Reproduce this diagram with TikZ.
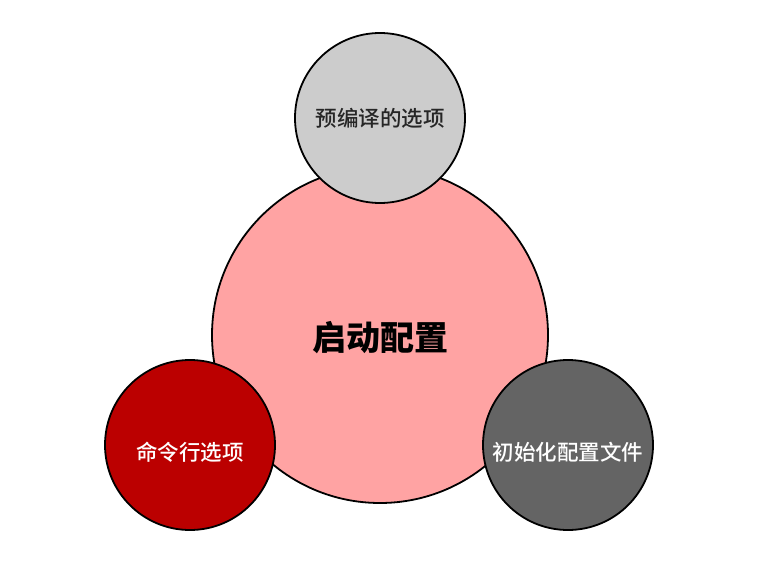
\documentclass[tikz,border=0pt]{standalone}
\usepackage{fontspec}
\newfontfamily\cjk{Noto Sans CJK SC}
\newfontfamily\cjkmid{Noto Sans CJK SC Medium}
\usepackage{xcolor}
\definecolor{pinkfill}{HTML}{FFA3A3}
\definecolor{lightgrey}{HTML}{CCCCCC}
\definecolor{darkred}{HTML}{BB0000}
\definecolor{darkgrey}{HTML}{646464}

\begin{document}
\begin{tikzpicture}[x=1pt,y=-1pt]
    \tikzstyle{c} = [circle,draw=black,line width=1.8pt,inner sep=0pt]
    \tikzstyle{big} = [c,minimum size=336pt,fill=pinkfill,font=\cjk\bfseries\fontsize{34}{34}\selectfont]
    \tikzstyle{small} = [c,minimum size=170pt,font=\cjkmid\fontsize{21.5}{21.5}\selectfont]
    \useasboundingbox (0,0) rectangle (768,575);
    \node [big] (start) at (380,335) {\raisebox{-3pt}[\height][\depth]{启动配置}};
    \node [small,fill=lightgrey,text=black!85] (precompiled) at (380,118) {预编译的选项};
    \node [small,fill=darkred,text=white] (cmdline) at (190,445) {\raisebox{-7pt}[\height][\depth]{命令行选项}};
    \node [small,fill=darkgrey,text=white] (inifile) at (568,445) {\raisebox{-7pt}[\height][\depth]{初始化配置文件}};
\end{tikzpicture}
\end{document}
